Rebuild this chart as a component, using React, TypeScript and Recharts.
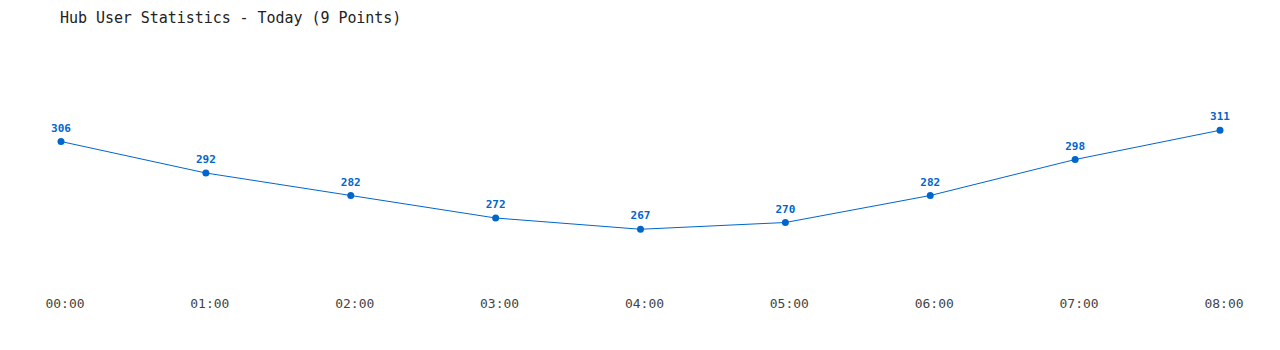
import { LineChart, Line, XAxis, YAxis, LabelList } from "recharts";

const hours = ["00:00", "01:00", "02:00", "03:00", "04:00", "05:00", "06:00", "07:00", "08:00"];
const users = [306, 292, 282, 272, 267, 270, 282, 298, 311];

const data = hours.map((hour, i) => ({ hour, users: users[i] }));

const mono = "'DejaVu Sans Mono', 'Liberation Mono', monospace";
const blue = "#0066cc";

export default function App() {
  return (
    <div style={{ position: "absolute", left: 0, top: 0, width: 1280, height: 350, background: "#fff" }}>
      <div
        style={{
          position: "absolute",
          left: 60,
          top: 9,
          fontFamily: mono,
          fontSize: 15,
          letterSpacing: -0.05,
          color: "#222",
          whiteSpace: "pre",
        }}
      >
        Hub User Statistics - Today (9 Points)
      </div>
      <LineChart
        width={1280}
        height={350}
        data={data}
        margin={{ top: 110, right: 60, bottom: 30, left: 61 }}
      >
        <XAxis
          dataKey="hour"
          axisLine={false}
          tickLine={false}
          tickSize={0}
          tickMargin={9}
          height={30}
          interval={0}
          tick={{ fontFamily: mono, fontSize: 13, fill: "#444", dx: 4 }}
        />
        <YAxis hide domain={[240, 320]} />
        <Line
          type="linear"
          dataKey="users"
          stroke={blue}
          strokeWidth={1}
          dot={{ r: 3.5, fill: blue, stroke: blue, strokeWidth: 0 }}
          isAnimationActive={false}
        >
          <LabelList
            dataKey="users"
            position="top"
            offset={10}
            style={{ fontFamily: mono, fontSize: 11, fontWeight: "bold", fill: blue }}
          />
        </Line>
      </LineChart>
    </div>
  );
}
